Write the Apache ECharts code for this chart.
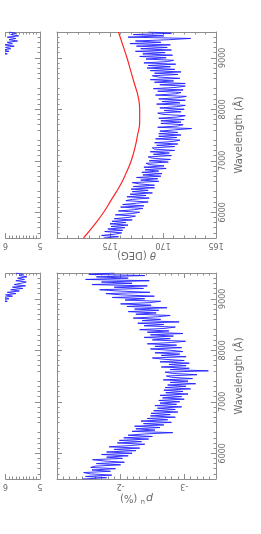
<!DOCTYPE html>
<html>
<head>
<meta charset="utf-8">
<script src="https://cdn.jsdelivr.net/npm/echarts@6/dist/echarts.min.js"></script>
<style>
html,body{margin:0;padding:0;background:#fff;}
#chart{width:261px;height:534px;}
</style>
</head>
<body>
<div id="chart"></div>
<script>
// ---- data (figure is shown rotated 90 degrees counter-clockwise) ----
const wavelength = [5500,5525,5550,5575,5600,5625,5650,5675,5700,5725,5750,5775,5800,5825,5850,5875,5900,5925,5950,5975,6000,6025,6050,6075,6100,6125,6150,6175,6200,6225,6250,6275,6300,6325,6350,6375,6400,6425,6450,6475,6500,6525,6550,6575,6600,6625,6650,6675,6700,6725,6750,6775,6800,6825,6850,6875,6900,6925,6950,6975,7000,7025,7050,7075,7100,7125,7150,7175,7200,7225,7250,7275,7300,7325,7350,7375,7400,7425,7450,7475,7500,7525,7550,7575,7600,7625,7650,7675,7700,7725,7750,7775,7800,7825,7850,7875,7900,7925,7950,7975,8000,8025,8050,8075,8100,8125,8150,8175,8200,8225,8250,8275,8300,8325,8350,8375,8400,8425,8450,8475,8500,8525,8550,8575,8600,8625,8650,8675,8700,8725,8750,8775,8800,8825,8850,8875,8900,8925,8950,8975,9000,9025,9050,9075,9100,9125,9150,9175,9200,9225,9250,9275,9300,9325,9350,9375,9400,9425,9450,9475,9500];

const thetaObs = [
175.6,174.2,175.8,174.5,173.9,175.5,173.8,175.2,173.6,174.9,
173.3,175.0,173.5,174.8,172.9,174.6,173.2,172.6,174.5,172.9,
172.2,174.2,172.7,171.9,174.0,171.8,173.8,172.5,171.4,173.5,
172.9,171.3,173.4,171.6,173.1,171.0,172.9,171.4,173.0,170.8,
172.8,170.8,172.2,172.9,170.4,172.1,170.5,172.5,170.2,171.9,
170.1,172.0,170.4,171.7,169.7,171.8,169.9,171.3,171.6,169.5,
171.3,169.3,171.0,171.4,169.2,170.9,169.4,171.2,168.9,170.8,
171.0,168.9,170.6,168.6,170.8,169.0,168.4,170.7,168.7,170.4,
168.3,170.4,168.6,170.3,168.9,167.3,170.5,168.6,168.1,170.2,
168.3,170.2,168.0,170.4,168.6,167.9,170.0,170.5,168.3,169.9,
168.0,170.3,168.7,167.9,170.6,168.4,170.1,167.9,170.4,168.6,
167.8,170.7,168.8,168.3,170.5,168.1,170.9,168.7,167.9,170.3,
167.9,170.8,169.0,171.2,168.4,170.4,171.0,168.6,170.8,168.3,
171.2,168.9,171.5,169.3,171.4,168.8,171.8,169.6,169.0,171.6,
169.7,172.2,169.1,171.9,169.8,172.6,169.2,172.1,169.6,172.5,
169.3,173.1,170.2,172.6,169.5,167.4,173.3,170.0,172.8,169.2,
171.4];

const modelWavelength = [5500,5750,6000,6250,6500,6750,7000,7250,7500,7750,8000,8250,8500,8750,9000,9250,9500];
const thetaModel = [177.5,176.5,175.6,174.85,174.1,173.5,173.0,172.65,172.4,172.2,172.2,172.35,172.7,173.05,173.4,173.8,174.2];

const puObs = [
-1.40,-1.78,-1.45,-1.86,-1.52,-1.42,-1.84,-1.55,-1.92,-1.53,
-1.60,-2.00,-1.62,-2.06,-1.74,-1.56,-2.03,-1.78,-2.12,-1.70,
-2.18,-1.78,-2.24,-1.90,-2.30,-1.82,-2.16,-2.38,-1.95,-2.33,
-1.98,-2.44,-2.05,-2.50,-2.12,-2.38,-2.82,-2.18,-2.54,-2.24,
-2.62,-2.22,-2.68,-2.36,-2.80,-2.32,-2.74,-2.42,-2.86,-2.47,
-2.78,-2.48,-2.90,-2.52,-2.86,-2.58,-2.96,-2.54,-2.88,-2.62,
-2.93,-2.60,-3.00,-2.66,-2.96,-2.62,-3.06,-2.71,-2.98,-2.68,
-3.10,-2.70,-3.03,-2.74,-3.18,-2.78,-3.06,-2.67,-3.13,-2.80,
-2.72,-3.20,-2.82,-2.70,-3.38,-2.78,-3.08,-2.64,-3.03,-2.76,
-3.08,-2.62,-3.00,-2.68,-2.50,-3.03,-2.64,-2.93,-2.54,-2.98,
-2.78,-2.47,-2.96,-2.54,-2.88,-2.42,-2.80,-3.02,-2.50,-2.78,
-2.37,-2.83,-2.47,-2.98,-2.42,-2.76,-2.30,-2.70,-2.86,-2.37,
-2.68,-2.27,-2.92,-2.34,-2.63,-2.20,-2.58,-2.78,-2.24,-2.56,
-2.12,-2.60,-2.22,-2.73,-2.10,-2.48,-2.00,-2.46,-2.63,-2.07,
-2.38,-1.87,-2.53,-2.02,-1.77,-2.46,-1.97,-1.67,-2.36,-1.90,
-2.42,-1.55,-2.18,-1.70,-2.45,-1.45,-2.12,-1.62,-2.38,-1.50,
-1.90];

// partially visible panels at the left edge (only their top ends are in view)
const leftTopValues = [6.6,6.5,6.7,6.4,6.6,6.3,6.5,6.2,6.4,6.1,6.3,5.95,6.2,5.9,6.1,5.85,6.0,5.75,6.05,5.8,5.95,5.65,5.9,5.7,5.95,5.62,5.85,5.7,5.9];
const leftTopWavelength = wavelength.slice(132);
const leftBottomValues = [6.5,6.6,6.4,6.5,6.3,6.45,6.2,6.35,6.05,6.25,5.95,6.15,5.9,6.1,5.8,6.0,5.7,5.95,5.6,5.85,5.5,5.8,5.42,5.75,5.55,5.4,5.7,5.45,5.65,5.38,5.6,5.5,5.7];
const leftBottomWavelength = wavelength.slice(128);

const thetaTicks = [165,170,175];
const puTicks = [-3,-2];
const leftTicks = [5,6];
const wavelengthTicks = [6000,7000,8000,9000];

// ---- styling ----
const FRAME = '#8e8e8e';
const TEXT = '#6a6a6a';
const FONT = 'DejaVu Sans';

const grids = [
  {left:57, top:32, width:159, height:206},
  {left:57, top:273, width:159, height:206},
  {left:0, top:32, width:40, height:206},
  {left:0, top:273, width:40, height:206}
];

const xAxes = [], yAxes = [];

function addX(gi, c) {
  const base = {
    type:'value', gridIndex:gi, inverse:true, min:c.min, max:c.max, interval:c.interval,
    axisLine:{show:true, onZero:false, lineStyle:{color:FRAME, width:1}},
    axisTick:{show:true, inside:true, length:5, lineStyle:{color:FRAME, width:1}},
    minorTick:{show:true, splitNumber:c.minor, length:2.5, lineStyle:{color:FRAME, width:1}},
    splitLine:{show:false}, minorSplitLine:{show:false}
  };
  if (c.tickValues) base.axisTick.customValues = c.tickValues;
  const bottom = Object.assign({}, base, {
    position:'bottom',
    axisLabel:{show:true, rotate:180, fontSize:8, color:TEXT, fontFamily:FONT, margin:3, customValues:c.labelValues, hideOverlap:false},
    name:c.name, nameLocation:'middle', nameGap:c.nameGap, nameRotate:180,
    nameTextStyle:{color:TEXT, fontFamily:FONT, fontSize:10, rich:c.rich}
  });
  const top = Object.assign({}, base, {position:'top', axisLabel:{show:false}});
  xAxes.push(bottom); const idx = xAxes.length - 1;
  xAxes.push(top);
  return idx;
}

function addY(gi, withLabels, showLeft) {
  const base = {
    type:'value', gridIndex:gi, min:5500, max:9500, interval:500,
    axisLine:{show:true, onZero:false, lineStyle:{color:FRAME, width:1}},
    axisTick:{show:true, inside:true, length:5, customValues:wavelengthTicks, lineStyle:{color:FRAME, width:1}},
    minorTick:{show:true, splitNumber:5, length:2.5, lineStyle:{color:FRAME, width:1}},
    splitLine:{show:false}, minorSplitLine:{show:false}
  };
  const right = Object.assign({}, base, {
    position:'right',
    axisLabel: withLabels ? {show:true, rotate:90, fontSize:8, color:TEXT, fontFamily:FONT, margin:3,
      customValues:wavelengthTicks, formatter:(v) => String(v)} : {show:false}
  });
  if (withLabels) {
    right.name = 'Wavelength (Å)';
    right.nameLocation = 'middle';
    right.nameGap = 15;
    right.nameRotate = 90;
    right.nameTextStyle = {color:TEXT, fontFamily:FONT, fontSize:10};
  }
  const left = Object.assign({}, base, {position:'left', axisLabel:{show:false}});
  if (!showLeft) {
    left.axisLine = {show:false}; left.axisTick = {show:false}; left.minorTick = {show:false};
  }
  yAxes.push(right); const idx = yAxes.length - 1;
  yAxes.push(left);
  return idx;
}

const x0 = addX(0, {min:165, max:180, interval:5, minor:5, labelValues:thetaTicks,
  name:'{i|θ} (DEG)', nameGap:12, rich:{i:{fontStyle:'italic', fontSize:10, color:TEXT, fontFamily:FONT}}});
const y0 = addY(0, true, true);
const x1 = addX(1, {min:-3.5, max:-1, interval:0.5, minor:5, tickValues:puTicks, labelValues:puTicks,
  name:'{i|p}{s|u} (%)', nameGap:12, rich:{i:{fontStyle:'italic', fontSize:11, color:TEXT, fontFamily:FONT}, s:{fontSize:7, color:TEXT, fontFamily:FONT, padding:[0,0,7,1]}}});
const y1 = addY(1, true, true);
const x2 = addX(2, {min:5, max:6, interval:1, minor:10, labelValues:leftTicks, name:'', nameGap:12});
const y2 = addY(2, false, false);
const x3 = addX(3, {min:5, max:6, interval:1, minor:10, labelValues:leftTicks, name:'', nameGap:12});
const y3 = addY(3, false, false);

function pairs(vals, wl) { return vals.map((v, i) => [v, wl[i]]); }

const BLUE = '#1f1fff';
const lineSeries = (xi, yi, data, color, width) => ({
  type:'line', xAxisIndex:xi, yAxisIndex:yi, data:data, showSymbol:false, symbol:'none',
  lineStyle:{color:color, width:width}, itemStyle:{color:color}, animation:false, clip:true
});

const option = {
  backgroundColor:'#ffffff',
  animation:false,
  grid:grids,
  xAxis:xAxes,
  yAxis:yAxes,
  series:[
    lineSeries(x0, y0, pairs(thetaObs, wavelength), BLUE, 0.9),
    Object.assign(lineSeries(x0, y0, pairs(thetaModel, modelWavelength), '#ff2424', 1.2), {smooth:true}),
    lineSeries(x1, y1, pairs(puObs, wavelength), BLUE, 0.9),
    lineSeries(x2, y2, pairs(leftTopValues, leftTopWavelength), BLUE, 0.9),
    lineSeries(x3, y3, pairs(leftBottomValues, leftBottomWavelength), BLUE, 0.9)
  ]
};

const chart = echarts.init(document.getElementById('chart'), null, {renderer:'canvas'});
chart.setOption(option);
</script>
</body>
</html>
